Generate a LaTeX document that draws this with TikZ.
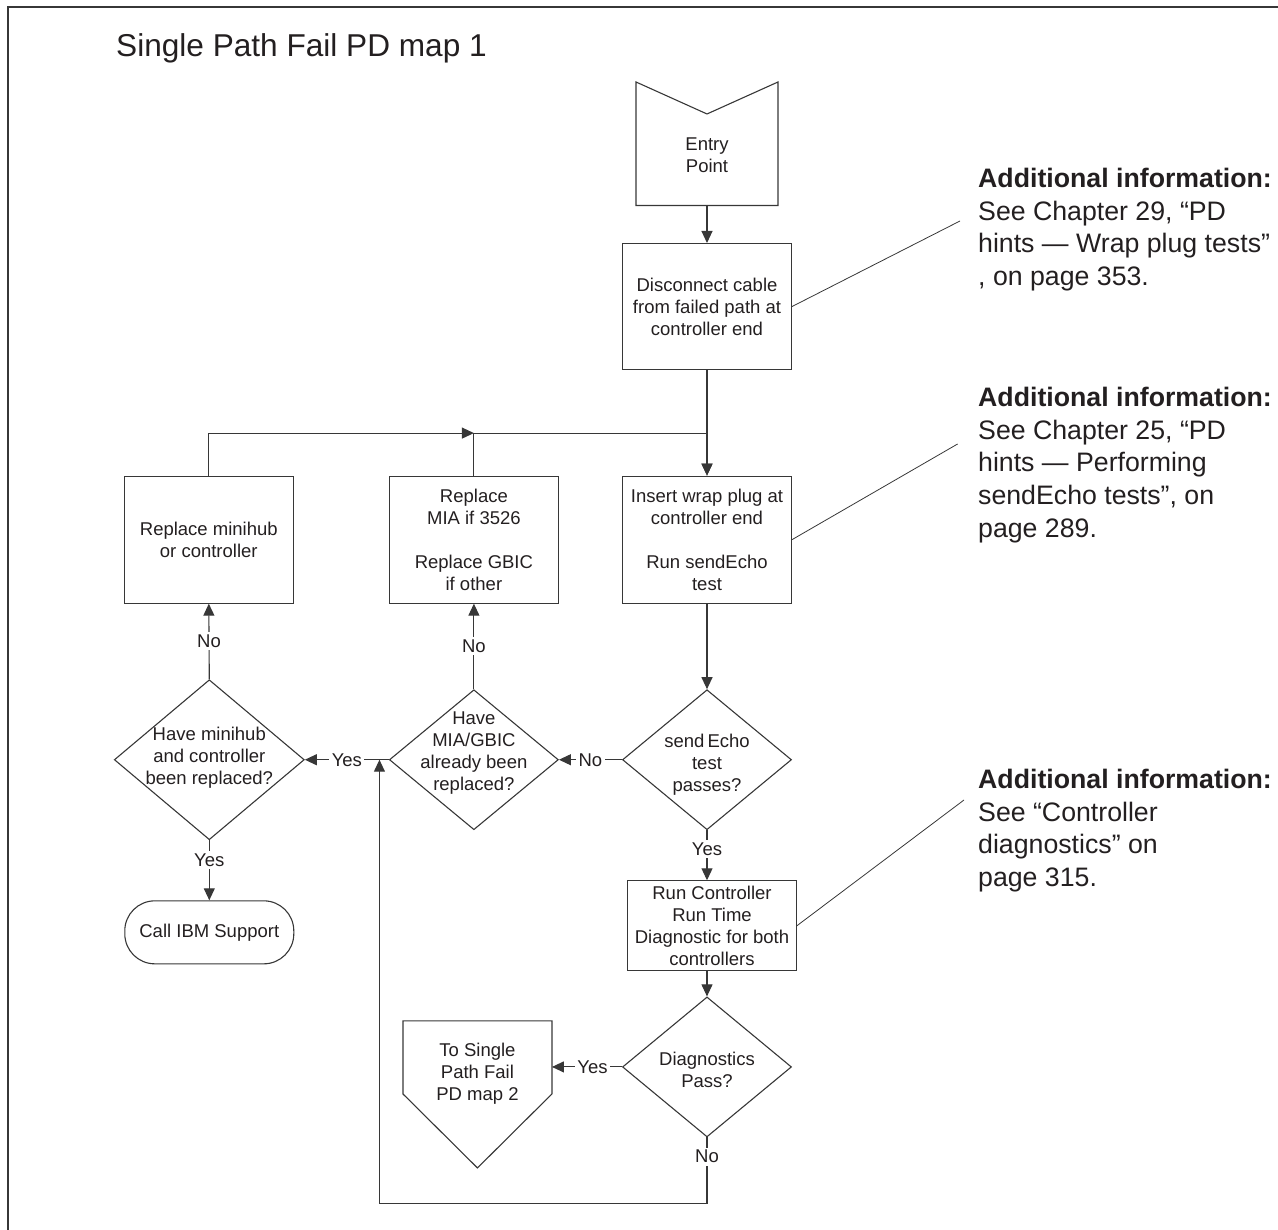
\documentclass[tikz,border=0pt]{standalone}
\usepackage{fontspec}
\setmainfont{Liberation Sans}
\usetikzlibrary{shapes.geometric, arrows.meta, positioning}
\definecolor{inkcolor}{RGB}{35, 31, 32}
\definecolor{linecolor}{RGB}{55, 55, 55}
\newcommand{\nodefont}{\fontsize{18.5}{22}\selectfont}
\newcommand{\notefont}{\fontsize{26.7}{32.7}\selectfont}
\newcommand{\titlefont}{\fontsize{31.6}{36}\selectfont}
\newcommand{\addinfo}{\textbf{Additional information:}}
\tikzset{
  procbox/.style={
    rectangle, draw=linecolor, line width=1.1pt,
    minimum width=169pt, minimum height=127pt,
    inner sep=0pt, align=center, font=\nodefont, text=inkcolor
  },
  decision/.style={
    diamond, draw=linecolor, line width=1.1pt,
    minimum width=169pt, minimum height=140pt, inner sep=0pt
  },
  dtext/.style={align=center, font=\nodefont, text=inkcolor, inner sep=0pt},
  lbl/.style={fill=white, inner sep=2.5pt, font=\nodefont, text=inkcolor},
  flow/.style={line width=1.1pt, color=linecolor},
  arr/.style={-{Triangle[length=12pt, width=11pt]}, line width=1.1pt, color=linecolor},
  noteline/.style={line width=0.8pt, color=linecolor},
  note/.style={align=left, anchor=north west, inner sep=0pt, font=\notefont, text=inkcolor}
}

\begin{document}
\begin{tikzpicture}[x=1pt, y=1pt]
  \useasboundingbox (0,0) rectangle (1278,1230);

  % ── Frame and title ────────────────────────────────────────────
  \draw[flow] (8,0) -- (8,1223) -- (1278,1223);
  \node[font=\titlefont, text=inkcolor, anchor=base west, inner sep=0pt] (title)
    at (116,1173) {Single Path Fail PD map 1};

  % ── Main column ────────────────────────────────────────────────
  \node[minimum width=142pt, minimum height=123.5pt, inner sep=0pt, outer sep=0pt]
    (entry) at (707,1086.25) {};
  \draw[flow] (entry.south west) -- (entry.north west) -- ([yshift=-32pt]entry.north)
    -- (entry.north east) -- (entry.south east) -- cycle;
  \node[dtext] (entrytxt) at ([yshift=-11.75pt]entry.center) {Entry\\Point};

  \node[procbox, minimum height=126pt, below=37.5pt of entry] (disc)
    {Disconnect cable\\from failed path at\\controller end};
  \coordinate[below=63pt of disc] (join);
  \node[procbox, below=105.5pt of disc] (insert)
    {Insert wrap plug at\\controller end\\[22pt]Run sendEcho\\test};
  \node[decision, below=85.5pt of insert] (d3) {};
  \node[dtext] (d3txt) at ([yshift=-4.5pt]d3.center) {send\,Echo\\test\\passes?};
  \node[procbox, minimum width=168.5pt, minimum height=90pt,
        below=50pt of d3, xshift=5pt] (run)
    {Run Controller\\Run Time\\Diagnostic for both\\controllers};
  \node[decision, below=25pt of run, xshift=-5pt] (diag) {};
  \node[dtext] (diagtxt) at ([yshift=-3pt]diag.center) {Diagnostics\\Pass?};

  % ── Replace branch ─────────────────────────────────────────────
  \node[procbox, left=63pt of insert] (mia)
    {Replace\\MIA if 3526\\[22pt]Replace GBIC\\if other};
  \node[procbox, left=95pt of mia] (minihub) {Replace minihub\\or controller};
  \node[decision, left=63pt of d3] (d2) {};
  \node[dtext] (d2txt) at ([yshift=7pt]d2.center)
    {Have\\MIA/GBIC\\already been\\replaced?};
  \node[decision, minimum width=190pt, minimum height=160pt, left=84pt of d2] (d1) {};
  \node[dtext] (d1txt) at ([yshift=2pt]d1.center)
    {Have minihub\\and controller\\been replaced?};
  \node[procbox, minimum height=63pt, rounded corners=30pt, below=60pt of d1] (call)
    {Call IBM Support};

  % ── Off-page connector ─────────────────────────────────────────
  \node[minimum width=149pt, minimum height=147pt, inner sep=0pt, outer sep=0pt,
        anchor=north east] (to2) at ([xshift=-70pt, yshift=46pt]diag.west) {};
  \draw[flow] (to2.north west) -- (to2.north east) -- ([yshift=74pt]to2.south east)
    -- (to2.south) -- ([yshift=74pt]to2.south west) -- cycle;
  \node[dtext] (to2txt) at ([yshift=20.5pt]to2.center) {To Single\\Path Fail\\PD map 2};

  % ── Flow arrows ────────────────────────────────────────────────
  \draw[arr] (entry.south) -- (disc.north);
  \draw[arr] (disc.south) -- (insert.north);
  \draw[arr] (minihub.north) |- (mia.north |- join);
  \draw[arr] (mia.north) |- (join) -- (insert.north);
  \draw[arr] (insert.south) -- (d3.north);
  \draw[arr] (d3.west) -- node[lbl]{No} (d2.east);
  \draw[arr] (d2.west) -- node[lbl]{Yes} (d1.east);
  \draw[arr] (d2.north) -- node[lbl]{No} (mia.south);
  \draw[arr] (d1.north) -- node[lbl]{No} (minihub.south);
  \draw[arr] (d1.south) -- node[lbl, pos=0.33]{Yes} (call.north);
  \draw[arr] (d3.south) -- node[lbl, pos=0.38]{Yes} (d3.south |- run.north);
  \draw[arr] (diag.north |- run.south) -- (diag.north);
  \draw[arr] (diag.west) -- node[lbl, pos=0.42]{Yes} (diag.west -| to2.east);

  % loop back from failed diagnostics
  \draw[arr] (diag.south) -- node[lbl, pos=0.29]{No} ++(0,-66)
    -| ([xshift=-9.4pt]d2.west);

  % ── Additional information notes ───────────────────────────────
  \node[note] (info1) at (978,1062)
    {\addinfo\\See Chapter 29, “PD\\hints — Wrap plug tests”\\, on page 353.};
  \node[note] (info2) at (978,843)
    {\addinfo\\See Chapter 25, “PD\\hints — Performing\\sendEcho tests”, on\\page 289.};
  \node[note] (info3) at (978,461)
    {\addinfo\\See “Controller\\diagnostics” on\\page 315.};

  \draw[noteline] (disc.east) -- ([xshift=-18pt, yshift=-53pt]info1.north west);
  \draw[noteline] (insert.east) -- ([xshift=-20.4pt, yshift=-57pt]info2.north west);
  \draw[noteline] (run.east) -- ([xshift=-14pt, yshift=-31pt]info3.north west);

\end{tikzpicture}
\end{document}
